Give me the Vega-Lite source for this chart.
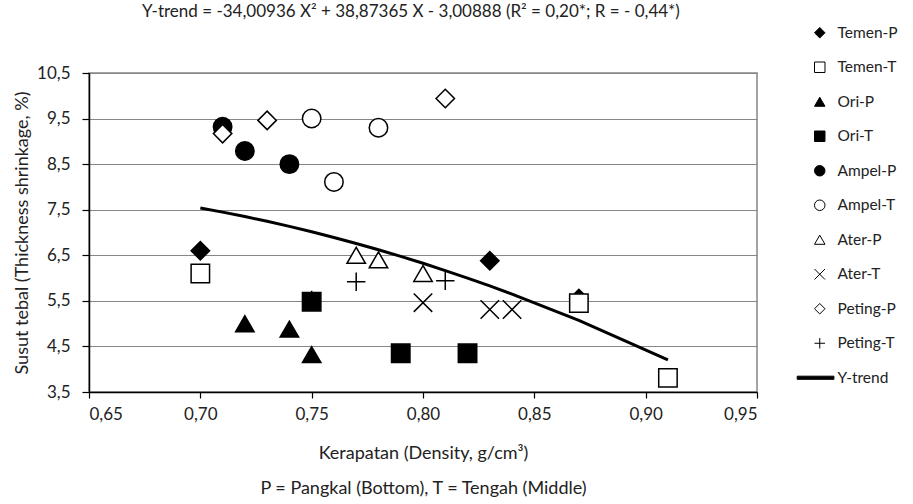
{
  "$schema": "https://vega.github.io/schema/vega-lite/v6.json",
  "autosize": "none",
  "width": 668,
  "height": 319,
  "padding": {"left": 89, "top": 73, "right": 156, "bottom": 112},
  "background": "white",
  "config": {
    "font": "Lato",
    "view": {"stroke": "#868686", "strokeWidth": 1.5},
    "axis": {"labelFont": "Lato", "titleFont": "Lato", "labelFontSize": 17, "titleFontSize": 18, "labelColor": "#222", "titleColor": "#222", "titleFontWeight": "normal"},
    "legend": {"labelFont": "Lato", "labelFontSize": 15.5, "labelColor": "#222"}
  },
  "title": {
    "text": "Y-trend = -34,00936 X² + 38,87365 X - 3,00888 (R² = 0,20*; R = - 0,44*)",
    "fontSize": 17,
    "fontWeight": "normal",
    "font": "Lato",
    "color": "#222",
    "offset": 4,
    "dx": -12,
    "anchor": "middle"
  },
  "datasets": {
    "pts": [
      {"series": "Temen-P", "x": 0.70, "y": 6.6},
      {"series": "Temen-P", "x": 0.83, "y": 6.38},
      {"series": "Temen-P", "x": 0.87, "y": 5.55},
      {"series": "Temen-T", "x": 0.70, "y": 6.1},
      {"series": "Temen-T", "x": 0.87, "y": 5.45},
      {"series": "Temen-T", "x": 0.91, "y": 3.81},
      {"series": "Ori-P", "x": 0.72, "y": 5.0},
      {"series": "Ori-P", "x": 0.74, "y": 4.88},
      {"series": "Ori-P", "x": 0.75, "y": 4.32},
      {"series": "Ori-T", "x": 0.75, "y": 5.48},
      {"series": "Ori-T", "x": 0.79, "y": 4.35},
      {"series": "Ori-T", "x": 0.82, "y": 4.35},
      {"series": "Ampel-P", "x": 0.71, "y": 9.32},
      {"series": "Ampel-P", "x": 0.72, "y": 8.79},
      {"series": "Ampel-P", "x": 0.74, "y": 8.5},
      {"series": "Ampel-T", "x": 0.75, "y": 9.5},
      {"series": "Ampel-T", "x": 0.78, "y": 9.3},
      {"series": "Ampel-T", "x": 0.76, "y": 8.11},
      {"series": "Ater-P", "x": 0.77, "y": 6.5},
      {"series": "Ater-P", "x": 0.78, "y": 6.4},
      {"series": "Ater-P", "x": 0.80, "y": 6.1},
      {"series": "Ater-T", "x": 0.80, "y": 5.46},
      {"series": "Ater-T", "x": 0.83, "y": 5.31},
      {"series": "Ater-T", "x": 0.84, "y": 5.31},
      {"series": "Peting-P", "x": 0.71, "y": 9.17},
      {"series": "Peting-P", "x": 0.73, "y": 9.46},
      {"series": "Peting-P", "x": 0.81, "y": 9.94},
      {"series": "Peting-T", "x": 0.75, "y": 5.52},
      {"series": "Peting-T", "x": 0.77, "y": 5.92},
      {"series": "Peting-T", "x": 0.81, "y": 5.94}
    ],
    "trend": [
      {"x": 0.70, "y": 7.538},
      {"x": 0.71, "y": 7.447},
      {"x": 0.72, "y": 7.350},
      {"x": 0.73, "y": 7.245},
      {"x": 0.74, "y": 7.134},
      {"x": 0.75, "y": 7.016},
      {"x": 0.76, "y": 6.891},
      {"x": 0.77, "y": 6.760},
      {"x": 0.78, "y": 6.621},
      {"x": 0.79, "y": 6.476},
      {"x": 0.80, "y": 6.324},
      {"x": 0.81, "y": 6.165},
      {"x": 0.82, "y": 6.000},
      {"x": 0.83, "y": 5.827},
      {"x": 0.84, "y": 5.648},
      {"x": 0.87, "y": 5.070},
      {"x": 0.91, "y": 4.203}
    ]
  },
  "layer": [
    {
      "data": {"name": "trend"},
      "mark": {"type": "line", "color": "black", "strokeWidth": 3},
      "encoding": {
        "x": {
          "field": "x", "type": "quantitative",
          "scale": {"domain": [0.65, 0.95], "nice": false, "zero": false},
          "axis": {
            "values": [0.65, 0.70, 0.75, 0.80, 0.85, 0.90, 0.95],
            "labelExpr": "replace(format(datum.value, '.2f'), '.', ',')",
            "grid": false,
            "domainColor": "black", "domainWidth": 1.5,
            "tickColor": "black", "tickSize": 6, "tickWidth": 1.2,
            "labelPadding": 8,
            "title": ["Kerapatan (Density, g/cm³)", "P = Pangkal (Bottom), T = Tengah (Middle)"],
            "titleLineHeight": 35,
            "titlePadding": 22
          }
        },
        "y": {
          "field": "y", "type": "quantitative",
          "scale": {"domain": [3.5, 10.5], "nice": false, "zero": false},
          "axis": {
            "values": [3.5, 4.5, 5.5, 6.5, 7.5, 8.5, 9.5, 10.5],
            "labelExpr": "replace(format(datum.value, '.1f'), '.', ',')",
            "grid": true, "gridColor": "#868686", "gridWidth": 1.2,
            "domainColor": "black", "domainWidth": 1.5,
            "tickColor": "black", "tickSize": 7, "tickWidth": 1.2,
            "labelPadding": 12,
            "title": "Susut tebal (Thickness shrinkage, %)",
            "titlePadding": 5
          }
        }
      }
    },
    {
      "data": {"name": "pts"},
      "mark": {"type": "point", "filled": true, "strokeWidth": 1.5, "size": 340, "opacity": 1},
      "encoding": {
        "x": {"field": "x", "type": "quantitative"},
        "y": {"field": "y", "type": "quantitative"},
        "shape": {
          "field": "series", "type": "nominal",
          "scale": {
            "domain": ["Temen-P", "Temen-T", "Ori-P", "Ori-T", "Ampel-P", "Ampel-T", "Ater-P", "Ater-T", "Peting-P", "Peting-T", "Y-trend"],
            "range": ["diamond", "square", "triangle-up", "square", "circle", "circle", "triangle-up", "M-1,-1L1,1M-1,1L1,-1", "diamond", "M-1,0L1,0M0,-1L0,1", "M-4.3,-0.3L2.7,-0.3L2.7,0.3L-4.3,0.3Z"]
          },
          "legend": {
            "title": null,
            "orient": "none",
            "legendX": 723,
            "legendY": -48,
            "symbolSize": 110,
            "symbolStrokeWidth": 1,
            "rowPadding": 17.5,
            "labelOffset": 10
          }
        },
        "fill": {
          "field": "series", "type": "nominal",
          "scale": {
            "domain": ["Temen-P", "Temen-T", "Ori-P", "Ori-T", "Ampel-P", "Ampel-T", "Ater-P", "Ater-T", "Peting-P", "Peting-T", "Y-trend"],
            "range": ["black", "white", "black", "black", "black", "white", "white", "white", "white", "white", "black"]
          },
          "legend": {
            "title": null,
            "orient": "none",
            "legendX": 723,
            "legendY": -48,
            "symbolSize": 110,
            "symbolStrokeWidth": 1,
            "rowPadding": 17.5,
            "labelOffset": 10
          }
        },
        "stroke": {
          "field": "series", "type": "nominal",
          "scale": {
            "domain": ["Temen-P", "Temen-T", "Ori-P", "Ori-T", "Ampel-P", "Ampel-T", "Ater-P", "Ater-T", "Peting-P", "Peting-T", "Y-trend"],
            "range": ["black", "black", "black", "black", "black", "black", "black", "black", "black", "black", "black"]
          },
          "legend": {
            "title": null,
            "orient": "none",
            "legendX": 723,
            "legendY": -48,
            "symbolSize": 110,
            "symbolStrokeWidth": 1,
            "rowPadding": 17.5,
            "labelOffset": 10
          }
        },
        "order": {"field": "series", "sort": "ascending"}
      }
    }
  ]
}
